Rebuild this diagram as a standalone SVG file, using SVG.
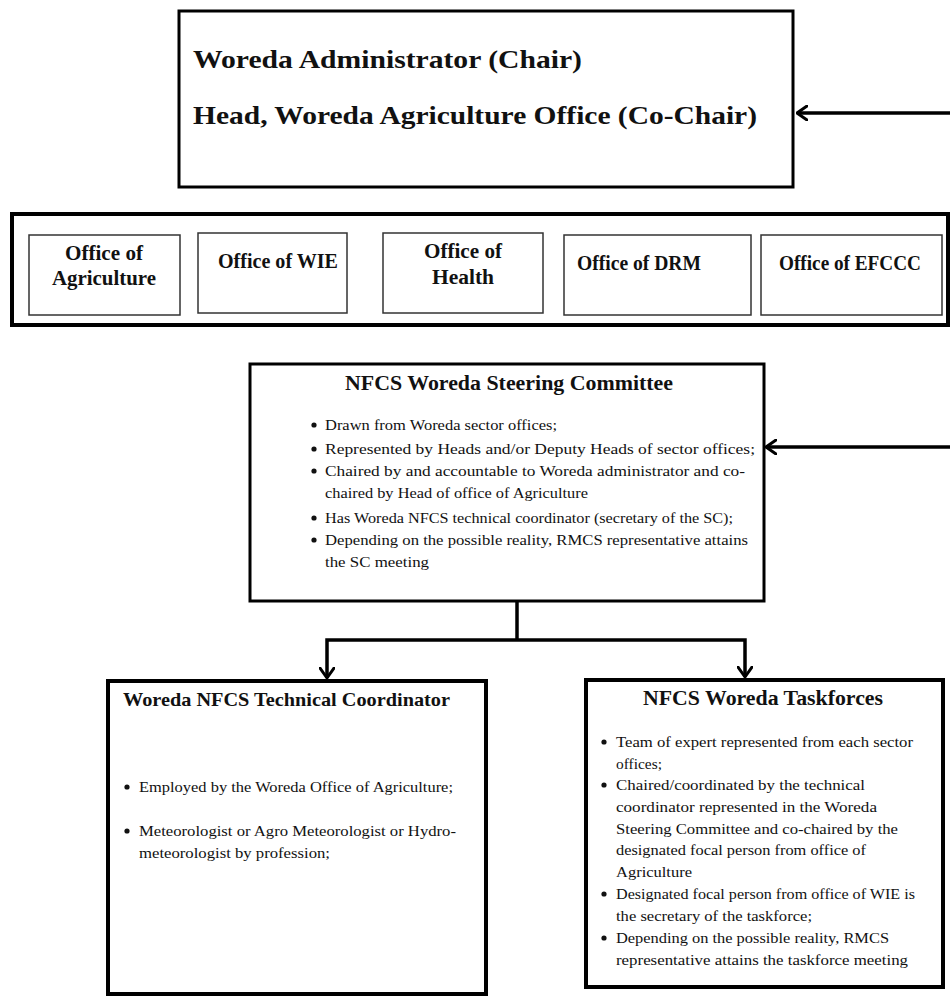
<svg xmlns="http://www.w3.org/2000/svg" width="950" height="996" viewBox="0 0 950 996">
  <style>
    .box { fill: #ffffff; stroke: #000000; stroke-width: 3; }
    .thick { fill: #ffffff; stroke: #000000; stroke-width: 4; }
    .office { fill: #ffffff; stroke: #333333; stroke-width: 1.5; }
    .head { font-family: "Liberation Serif", "Times New Roman", serif; font-weight: bold; fill: #111111; }
    .body { font-family: "Liberation Serif", "Times New Roman", serif; fill: #111111; }
    .dot { fill: #111111; }
    .wire { fill: none; stroke: #000000; stroke-width: 3.5; }
  </style>
  <defs>
    <marker id="chev" viewBox="0 0 12 16" refX="11" refY="8" markerWidth="12" markerHeight="16" markerUnits="userSpaceOnUse" orient="auto">
      <path d="M1,1 L11,8 L1,15" fill="none" stroke="#000000" stroke-width="3" stroke-linecap="round" stroke-linejoin="round"/>
    </marker>
  </defs>
  <rect width="950" height="996" fill="#ffffff"/>

  <!-- Chair box -->
  <g id="chair">
    <rect class="box" x="179" y="11" width="614" height="176"/>
    <text class="head" x="193" y="68" font-size="26" textLength="389" lengthAdjust="spacingAndGlyphs">Woreda Administrator (Chair)</text>
    <text class="head" x="193" y="124" font-size="26" textLength="564" lengthAdjust="spacingAndGlyphs">Head, Woreda Agriculture Office (Co-Chair)</text>
  </g>

  <!-- Sector offices -->
  <g id="offices">
    <rect class="thick" x="12" y="214" width="936" height="111"/>
    <g id="office-agriculture">
      <rect class="office" x="29" y="235" width="151" height="80"/>
      <text class="head" x="104" y="260" font-size="20" text-anchor="middle" textLength="78" lengthAdjust="spacingAndGlyphs">Office of</text>
      <text class="head" x="104" y="285" font-size="20" text-anchor="middle" textLength="104" lengthAdjust="spacingAndGlyphs">Agriculture</text>
    </g>
    <g id="office-wie">
      <rect class="office" x="198" y="233" width="149" height="80"/>
      <text class="head" x="218" y="268" font-size="20" textLength="120" lengthAdjust="spacingAndGlyphs">Office of WIE</text>
    </g>
    <g id="office-health">
      <rect class="office" x="383" y="233" width="160" height="80"/>
      <text class="head" x="463" y="258" font-size="20" text-anchor="middle" textLength="78" lengthAdjust="spacingAndGlyphs">Office of</text>
      <text class="head" x="463" y="284" font-size="20" text-anchor="middle" textLength="62" lengthAdjust="spacingAndGlyphs">Health</text>
    </g>
    <g id="office-drm">
      <rect class="office" x="564" y="235" width="187" height="80"/>
      <text class="head" x="577" y="270" font-size="20" textLength="124" lengthAdjust="spacingAndGlyphs">Office of DRM</text>
    </g>
    <g id="office-efccc">
      <rect class="office" x="761" y="235" width="181" height="80"/>
      <text class="head" x="779" y="270" font-size="20" textLength="142" lengthAdjust="spacingAndGlyphs">Office of EFCCC</text>
    </g>
  </g>

  <!-- Steering committee -->
  <g id="steering">
    <rect class="box" x="250" y="364" width="514" height="237"/>
    <text class="head" x="345" y="390" font-size="20" textLength="328" lengthAdjust="spacingAndGlyphs">NFCS Woreda Steering Committee</text>
    <g class="dot">
      <circle cx="314" cy="425" r="2.6"/>
      <circle cx="314" cy="449" r="2.6"/>
      <circle cx="314" cy="471" r="2.6"/>
      <circle cx="314" cy="518" r="2.6"/>
      <circle cx="314" cy="540" r="2.6"/>
    </g>
    <g class="body" font-size="15.5">
      <text x="325" y="430" textLength="232" lengthAdjust="spacingAndGlyphs">Drawn from Woreda sector offices;</text>
      <text x="325" y="454" textLength="430" lengthAdjust="spacingAndGlyphs">Represented by Heads and/or Deputy Heads of sector offices;</text>
      <text x="325" y="476" textLength="420" lengthAdjust="spacingAndGlyphs">Chaired by and accountable to Woreda administrator  and co-</text>
      <text x="325" y="498" textLength="263" lengthAdjust="spacingAndGlyphs">chaired by Head of office of Agriculture</text>
      <text x="325" y="523" textLength="408" lengthAdjust="spacingAndGlyphs">Has Woreda NFCS technical coordinator (secretary of the SC);</text>
      <text x="325" y="545" textLength="423" lengthAdjust="spacingAndGlyphs">Depending on the possible reality, RMCS representative attains</text>
      <text x="325" y="567" textLength="104" lengthAdjust="spacingAndGlyphs">the SC meeting</text>
    </g>
  </g>

  <!-- Technical coordinator -->
  <g id="coordinator">
    <rect class="thick" x="108" y="681" width="378" height="313"/>
    <text class="head" x="123" y="706" font-size="19" textLength="327" lengthAdjust="spacingAndGlyphs">Woreda NFCS Technical Coordinator</text>
    <g class="dot">
      <circle cx="127" cy="787" r="2.6"/>
      <circle cx="127" cy="831" r="2.6"/>
    </g>
    <g class="body" font-size="15.5">
      <text x="139" y="792" textLength="314" lengthAdjust="spacingAndGlyphs">Employed by the Woreda Office of Agriculture;</text>
      <text x="139" y="836" textLength="317" lengthAdjust="spacingAndGlyphs">Meteorologist or Agro Meteorologist or Hydro-</text>
      <text x="139" y="858" textLength="191" lengthAdjust="spacingAndGlyphs">meteorologist by profession;</text>
    </g>
  </g>

  <!-- Taskforces -->
  <g id="taskforces">
    <rect class="thick" x="586" y="680" width="357" height="307"/>
    <text class="head" x="643" y="705" font-size="20" textLength="240" lengthAdjust="spacingAndGlyphs">NFCS Woreda Taskforces</text>
    <g class="dot">
      <circle cx="604" cy="742" r="2.6"/>
      <circle cx="604" cy="785" r="2.6"/>
      <circle cx="604" cy="894" r="2.6"/>
      <circle cx="604" cy="938" r="2.6"/>
    </g>
    <g class="body" font-size="15.5">
      <text x="616" y="747" textLength="297" lengthAdjust="spacingAndGlyphs">Team of expert represented from each sector</text>
      <text x="616" y="769" textLength="46" lengthAdjust="spacingAndGlyphs">offices;</text>
      <text x="616" y="790" textLength="249" lengthAdjust="spacingAndGlyphs">Chaired/coordinated by the technical</text>
      <text x="616" y="812" textLength="261" lengthAdjust="spacingAndGlyphs">coordinator represented in the Woreda</text>
      <text x="616" y="834" textLength="282" lengthAdjust="spacingAndGlyphs">Steering Committee and co-chaired by the</text>
      <text x="616" y="855" textLength="250" lengthAdjust="spacingAndGlyphs">designated focal person from office of</text>
      <text x="616" y="877" textLength="76" lengthAdjust="spacingAndGlyphs">Agriculture</text>
      <text x="616" y="899" textLength="299" lengthAdjust="spacingAndGlyphs">Designated focal person from office of WIE is</text>
      <text x="616" y="921" textLength="196" lengthAdjust="spacingAndGlyphs">the secretary of the taskforce;</text>
      <text x="616" y="943" textLength="273" lengthAdjust="spacingAndGlyphs">Depending on the possible reality, RMCS</text>
      <text x="616" y="965" textLength="292" lengthAdjust="spacingAndGlyphs">representative attains the taskforce meeting</text>
    </g>
  </g>

  <!-- Connectors -->
  <g id="connectors">
    <path class="wire" d="M950,113 H797" marker-end="url(#chev)"/>
    <path class="wire" d="M950,447 H766" marker-end="url(#chev)"/>
    <path class="wire" d="M517,601 V640"/>
    <path class="wire" d="M517,640 H327 V678" marker-end="url(#chev)"/>
    <path class="wire" d="M517,640 H745 V677" marker-end="url(#chev)"/>
  </g>
</svg>
